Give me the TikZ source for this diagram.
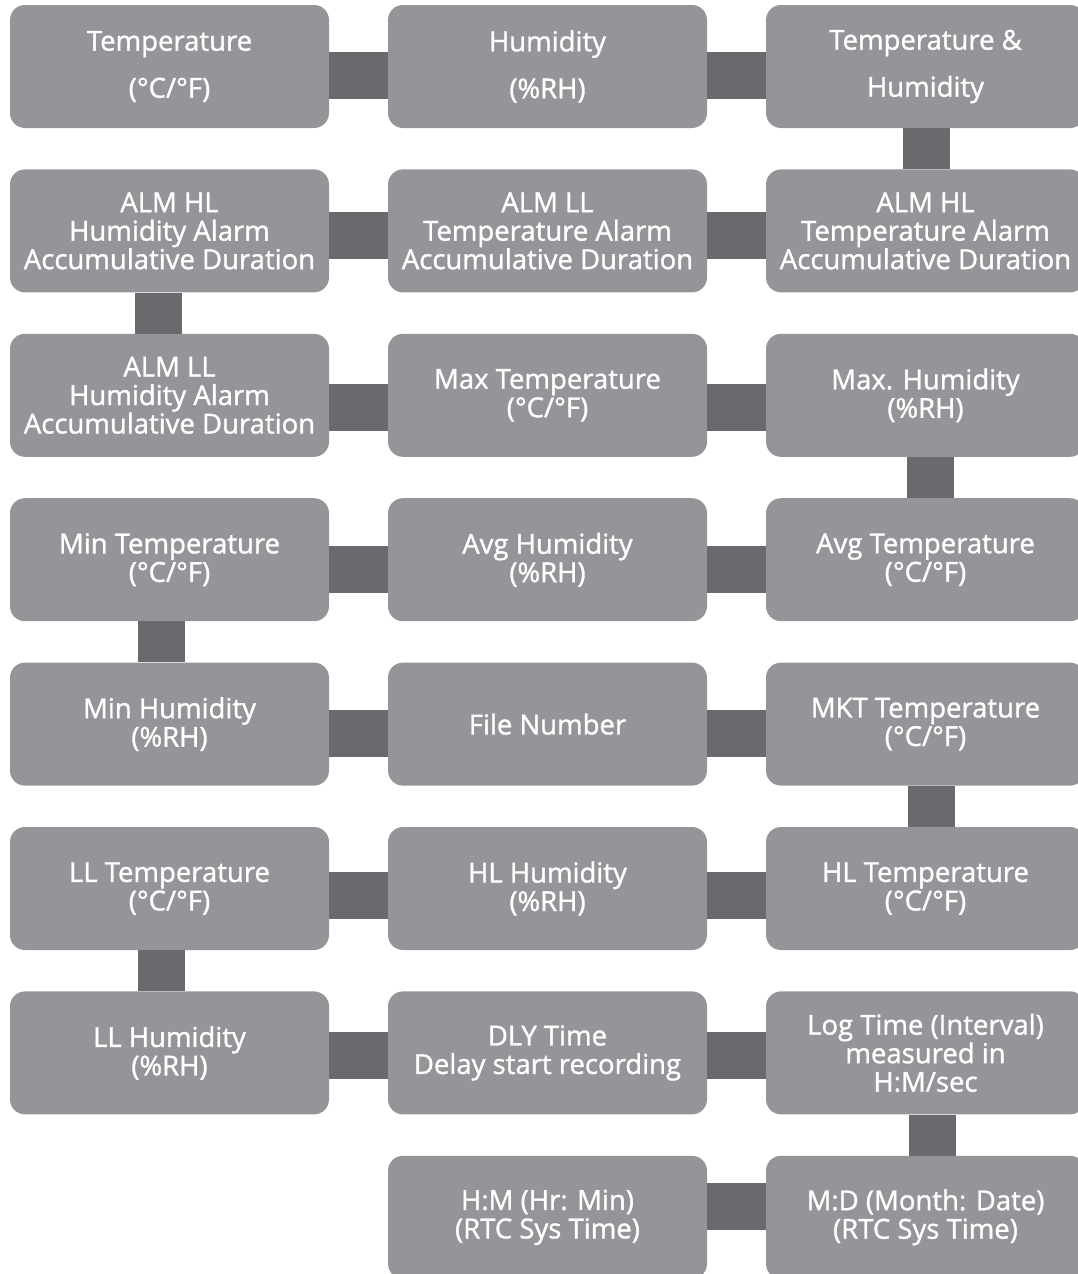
\documentclass[tikz,border=0pt]{standalone}
\usepackage{fontspec}
\setmainfont{Open Sans}[FakeBold=1.2]
\usetikzlibrary{positioning}
\definecolor{boxgray}{RGB}{147,149,152}
\definecolor{linkgray}{RGB}{105,106,109}

\begin{document}
\begin{tikzpicture}[
    node distance=164.4pt and 378pt,
    on grid,
    every node/.style={text=white, align=center, font=\fontsize{27.5}{28.5}\selectfont},
    item/.style={rectangle, rounded corners=15pt, fill=boxgray, minimum width=319pt, minimum height=123pt, inner sep=0pt},
    wide/.style={font=\fontsize{27.5}{47}\selectfont},
    link/.style={draw=linkgray, line width=47pt}
]
   \useasboundingbox (0,0) rectangle (1077pt,-1274pt);

   % Boxes, row by row
   \node[item, wide] (temp) at (169.5pt,-66.5pt) {Temperature\\(°C/°F)};
   \node[item, wide] (hum) [right=of temp] {Humidity\\(\%RH)};
   \node[item, wide] (temphum) [right=of hum] {Temperature \&\\Humidity};

   \node[item] (almhlh) [below=of temp] {ALM HL\\Humidity Alarm\\Accumulative Duration};
   \node[item] (almllt) [right=of almhlh] {ALM LL\\Temperature Alarm\\Accumulative Duration};
   \node[item] (almhlt) [right=of almllt] {ALM HL\\Temperature Alarm\\Accumulative Duration};

   \node[item] (almllh) [below=of almhlh] {ALM LL\\Humidity Alarm\\Accumulative Duration};
   \node[item] (maxtemp) [right=of almllh] {Max Temperature\\(°C/°F)};
   \node[item] (maxhum) [right=of maxtemp] {Max. Humidity\\(\%RH)};

   \node[item] (mintemp) [below=of almllh] {Min Temperature\\(°C/°F)};
   \node[item] (avghum) [right=of mintemp] {Avg Humidity\\(\%RH)};
   \node[item] (avgtemp) [right=of avghum] {Avg Temperature\\(°C/°F)};

   \node[item] (minhum) [below=of mintemp] {Min Humidity\\(\%RH)};
   \node[item] (filenum) [right=of minhum] {File Number};
   \node[item] (mkt) [right=of filenum] {MKT Temperature\\(°C/°F)};

   \node[item] (lltemp) [below=of minhum] {LL Temperature\\(°C/°F)};
   \node[item] (hlhum) [right=of lltemp] {HL Humidity\\(\%RH)};
   \node[item] (hltemp) [right=of hlhum] {HL Temperature\\(°C/°F)};

   \node[item] (llhum) [below=of lltemp] {LL Humidity\\(\%RH)};
   \node[item] (dly) [right=of llhum] {DLY Time\\Delay start recording};
   \node[item] (logtime) [right=of dly] {Log Time (Interval)\\measured in\\H:M/sec};

   \node[item] (hm) [below=of dly] {H:M (Hr: Min)\\(RTC Sys Time)};
   \node[item] (md) [right=of hm] {M:D (Month: Date)\\(RTC Sys Time)};

   % Connectors
   \draw[link] ([yshift=-9pt]temp.east) -- ([yshift=-9pt]hum.west);
   \draw[link] ([yshift=-9pt]hum.east) -- ([yshift=-9pt]temphum.west);
   \draw[link] ([xshift=0.5pt]temphum.south) -- ([xshift=0.5pt]almhlt.north);

   \draw[link] ([yshift=-4.6pt]almhlt.west) -- ([yshift=-4.6pt]almllt.east);
   \draw[link] ([yshift=-4.6pt]almllt.west) -- ([yshift=-4.6pt]almhlh.east);
   \draw[link] ([xshift=-11.5pt]almhlh.south) -- ([xshift=-11.5pt]almllh.north);

   \draw[link] ([yshift=-12pt]almllh.east) -- ([yshift=-12pt]maxtemp.west);
   \draw[link] ([yshift=-12pt]maxtemp.east) -- ([yshift=-12pt]maxhum.west);
   \draw[link] ([xshift=4.5pt]maxhum.south) -- ([xshift=4.5pt]avgtemp.north);

   \draw[link] ([yshift=-9.8pt]avgtemp.west) -- ([yshift=-9.8pt]avghum.east);
   \draw[link] ([yshift=-9.8pt]avghum.west) -- ([yshift=-9.8pt]mintemp.east);
   \draw[link] ([xshift=-8.5pt]mintemp.south) -- ([xshift=-8.5pt]minhum.north);

   \draw[link] ([yshift=-8.9pt]minhum.east) -- ([yshift=-8.9pt]filenum.west);
   \draw[link] ([yshift=-8.9pt]filenum.east) -- ([yshift=-8.9pt]mkt.west);
   \draw[link] ([xshift=5.5pt]mkt.south) -- ([xshift=5.5pt]hltemp.north);

   \draw[link] ([yshift=-6.5pt]hltemp.west) -- ([yshift=-6.5pt]hlhum.east);
   \draw[link] ([yshift=-6.5pt]hlhum.west) -- ([yshift=-6.5pt]lltemp.east);
   \draw[link] ([xshift=-8.5pt]lltemp.south) -- ([xshift=-8.5pt]llhum.north);

   \draw[link] ([yshift=-2.1pt]llhum.east) -- ([yshift=-2.1pt]dly.west);
   \draw[link] ([yshift=-2.1pt]dly.east) -- ([yshift=-2.1pt]logtime.west);
   \draw[link] ([xshift=6.5pt]logtime.south) -- ([xshift=6.5pt]md.north);

   \draw[link] ([yshift=10.8pt]md.west) -- ([yshift=10.8pt]hm.east);
\end{tikzpicture}
\end{document}
